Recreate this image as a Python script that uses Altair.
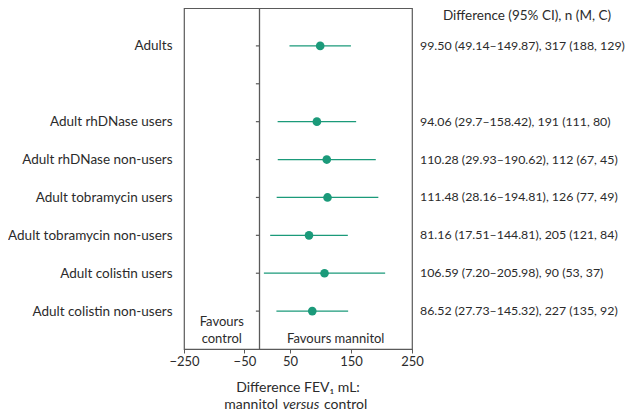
import altair as alt
import pandas as pd

# ---- data ----
groups = [
    "Adults",
    " ",
    "Adult rhDNase users",
    "Adult rhDNase non-users",
    "Adult tobramycin users",
    "Adult tobramycin non-users",
    "Adult colistin users",
    "Adult colistin non-users",
]
estimates = [99.50, None, 94.06, 110.28, 111.48, 81.16, 106.59, 86.52]
ci_low = [49.14, None, 29.7, 29.93, 28.16, 17.51, 7.20, 27.73]
ci_high = [149.87, None, 158.42, 190.62, 194.81, 144.81, 205.98, 145.32]
summaries = [
    "99.50 (49.14–149.87), 317 (188, 129)",
    "",
    "94.06 (29.7–158.42), 191 (111, 80)",
    "110.28 (29.93–190.62), 112 (67, 45)",
    "111.48 (28.16–194.81), 126 (77, 49)",
    "81.16 (17.51–144.81), 205 (121, 84)",
    "106.59 (7.20–205.98), 90 (53, 37)",
    "86.52 (27.73–145.32), 227 (135, 92)",
]
x_ticks = [-250, -50, 50, 150, 250]
header_text = "Difference (95% CI), n (M, C)"
favours_control = ["Favours", "control"]
favours_mannitol = "Favours mannitol"
title_line1 = "Difference FEV₁ mL:"
title_line2 = ["mannitol", "versus", "control"]

# ---- style ----
FONT = "Lato"
TEXT = "#2b2b2b"
LINE = "#5a5a5a"
TEAL = "#1b9a7a"
W, H = 228, 341

df = pd.DataFrame({
    "group": groups,
    "est": estimates,
    "lo": ci_low,
    "hi": ci_high,
    "summary": summaries,
})

x_scale = alt.Scale(domain=[-250, 0, 250], range=[0, 75.5, W], nice=False, zero=False)
y_enc = alt.Y(
    "group:N",
    sort=groups,
    scale=alt.Scale(type="point", padding=1),
    axis=alt.Axis(
        title=None, domain=False, ticks=False, tickSize=0, labelPadding=12,
        labelFontSize=13.5, labelFont=FONT, labelColor=TEXT, labelAlign="right",
    ),
)

base = alt.Chart(df)

valid = base.transform_filter("isValid(datum.est)")

ci = valid.mark_rule(color=TEAL, strokeWidth=1.3).encode(
    x=alt.X(
        "lo:Q", scale=x_scale,
        axis=alt.Axis(
            title=None, values=x_ticks, grid=False, tickSize=4, tickColor=LINE,
            domainColor=LINE, labelFontSize=13, labelFont=FONT, labelColor=TEXT,
            labelPadding=2, labelFlush=False,
        ),
    ),
    x2="hi:Q",
    y=y_enc,
)

pts = valid.mark_circle(color=TEAL, size=75, opacity=1).encode(
    x="est:Q", y=y_enc
)

zero_line = alt.Chart(pd.DataFrame({"v": [0]})).mark_rule(
    color=LINE, strokeWidth=1.3
).encode(x=alt.X("v:Q", scale=x_scale))

row_ticks = base.mark_rule(color=LINE, strokeWidth=1.2).encode(
    x=alt.datum(-12), x2=alt.datum(0), y=y_enc
)

col_text = base.mark_text(
    align="left", baseline="middle", fontSize=12.35, font=FONT, color=TEXT
).encode(x=alt.value(W + 8), y=y_enc, text="summary:N")

one = pd.DataFrame({"k": [0]})


def label(text, x, y, align="center", dx=0, size=13, style="normal"):
    return alt.Chart(one).mark_text(
        text=text, align=align, baseline="middle", fontSize=size, font=FONT,
        color=TEXT, dx=dx, fontStyle=style,
    ).encode(x=x, y=y)


header = label(header_text, alt.value(W + 115), alt.value(8), size=13.5)

fav_c1 = label(favours_control[0], alt.datum(-125), alt.value(H - 27))
fav_c2 = label(favours_control[1], alt.datum(-125), alt.value(H - 10))
fav_m = label(favours_mannitol, alt.datum(125), alt.value(H - 10))

cx = W / 2
t1 = label(title_line1, alt.value(cx), alt.value(H + 39), size=14)
t2a = label(title_line2[0], alt.value(cx + 3), alt.value(H + 56), align="right", dx=-23, size=14)
t2b = label(title_line2[1], alt.value(cx + 3), alt.value(H + 56), size=14, style="italic")
t2c = label(title_line2[2], alt.value(cx + 3), alt.value(H + 56), align="left", dx=23, size=14)

chart = alt.layer(
    ci, zero_line, row_ticks, pts, col_text, header, fav_c1, fav_c2, fav_m,
    t1, t2a, t2b, t2c
).properties(
    width=W, height=H,
    autosize=alt.AutoSizeParams(type="none"),
    padding={"left": 176, "top": 0, "right": 217, "bottom": 63},
).configure_view(stroke=LINE, strokeWidth=1.2)

chart.save("out.html", embed_options={"renderer": "svg", "actions": False})
